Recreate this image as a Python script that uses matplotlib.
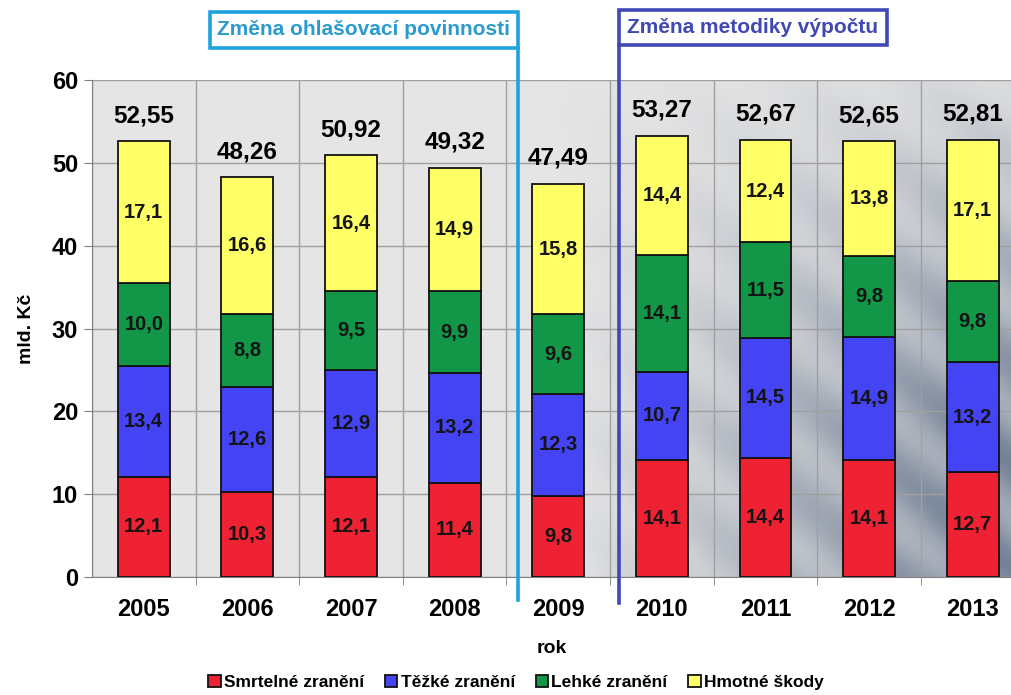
import numpy as np
import matplotlib
matplotlib.use("Agg")
import matplotlib.pyplot as plt
from matplotlib.patches import Rectangle

plt.rcParams['font.family'] = ['Liberation Sans', 'DejaVu Sans']

# data
roky = ['2005', '2006', '2007', '2008', '2009', '2010', '2011', '2012', '2013']
smrtelne = [12.1, 10.3, 12.1, 11.4, 9.8, 14.1, 14.4, 14.1, 12.7]
tezke = [13.4, 12.6, 12.9, 13.2, 12.3, 10.7, 14.5, 14.9, 13.2]
lehke = [10.0, 8.8, 9.5, 9.9, 9.6, 14.1, 11.5, 9.8, 9.8]
hmotne = [17.1, 16.6, 16.4, 14.9, 15.8, 14.4, 12.4, 13.8, 17.1]
celkem = ['52,55', '48,26', '50,92', '49,32', '47,49', '53,27', '52,67', '52,65', '52,81']

serie = [('Smrtelné zranění', smrtelne, '#ee2233'),
         ('Těžké zranění', tezke, '#4444f4'),
         ('Lehké zranění', lehke, '#129647'),
         ('Hmotné škody', hmotne, '#ffff66')]

fig = plt.figure(figsize=(10.12, 6.95), dpi=100)
ax = fig.add_axes([0.0909, 0.1698, 0.9091, 0.715])

# pozadi s prechodem
u, v = np.meshgrid(np.linspace(0, 1, 300), np.linspace(1, 0, 200))
t = np.clip((u - 0.5) * 2.2, 0, 1) * np.clip(1.35 - v * 1.2, 0, 1)
t = t * (0.8 + 0.2 * np.sin(u * 45 + v * 30))
light = np.array([0.90, 0.90, 0.90])
dark = np.array([0.46, 0.51, 0.59])
img = light[None, None, :] * (1 - t[..., None]) + dark[None, None, :] * t[..., None]
ax.imshow(img, extent=[0, 1, 0, 1], transform=ax.transAxes, aspect='auto', zorder=0)

x = np.arange(len(roky))
bottom = np.zeros(len(roky))
for nazev, hodnoty, barva in serie:
    ax.bar(x, hodnoty, 0.5, bottom=bottom, color=barva, edgecolor='#111111',
           linewidth=1.3, label=nazev, zorder=3)
    for i, h in enumerate(hodnoty):
        ax.text(x[i], bottom[i] + h / 2, ('%.1f' % h).replace('.', ','),
                ha='center', va='center', fontsize=14.5, fontweight='bold',
                color='#141414', zorder=4)
    bottom = bottom + np.array(hodnoty)

for i, s in enumerate(celkem):
    ax.annotate(s, (x[i], bottom[i]), xytext=(0, 10), textcoords='offset points',
                ha='center', va='bottom', fontsize=17.5, fontweight='bold', zorder=4)

ax.set_xlim(-0.5, 8.38)
ax.set_ylim(0, 60)
ax.set_yticks(range(0, 61, 10))
ax.set_xticks(x)
ax.set_xticklabels(roky)
ax.set_xticks(x[:-1] + 0.5, minor=True)
ax.grid(axis='y', color='#a0a0a0', linewidth=1, zorder=1)
for b in np.append(x - 0.5, x[-1] + 0.5):
    ax.axvline(b, color='#a0a0a0', linewidth=1, zorder=1)
ax.set_axisbelow(True)
ax.tick_params(axis='y', length=6, color='#808080', labelsize=17, pad=4)
ax.tick_params(axis='x', which='major', length=0, labelsize=17, pad=15)
ax.tick_params(axis='x', which='minor', length=6, color='#808080')
for lab in ax.get_xticklabels() + ax.get_yticklabels():
    lab.set_fontweight('bold')
for s in ['top', 'right']:
    ax.spines[s].set_visible(False)
ax.spines['left'].set_color('#808080')
ax.spines['bottom'].set_color('#808080')

ax.set_ylabel('mld. Kč', fontsize=14, fontweight='bold', labelpad=12)
ax.set_xlabel('rok', fontsize=14, fontweight='bold', labelpad=14)

# zmeny metodiky
i1 = roky.index('2009')
i2 = roky.index('2010')
c1 = '#1ea3dc'
c2 = '#3f48b4'
x1 = i1 - 0.39
x2 = i2 - 0.41
ax.plot([x1, x1], [-2.8, 63.9], color=c1, linewidth=2.6, clip_on=False, zorder=5)
ax.add_patch(Rectangle((0.64, 63.9), x1 - 0.64, 4.3, facecolor='white', edgecolor=c1,
                       linewidth=2.6, clip_on=False, zorder=5))
ax.text((0.64 + x1) / 2, 66.05, 'Změna ohlašovací povinnosti', ha='center', va='center',
        fontsize=15, fontweight='bold', color='#2a9bd0', zorder=6, clip_on=False)
ax.plot([x2, x2], [-3.1, 64.25], color=c2, linewidth=2.6, clip_on=False, zorder=5)
ax.add_patch(Rectangle((x2, 64.25), 7.17 - x2, 4.25, facecolor='white', edgecolor=c2,
                       linewidth=2.6, clip_on=False, zorder=5))
ax.text((x2 + 7.17) / 2, 66.4, 'Změna metodiky výpočtu', ha='center', va='center',
        fontsize=15, fontweight='bold', color=c2, zorder=6, clip_on=False)

leg = fig.legend(loc='center', bbox_to_anchor=(0.51, 0.018), ncol=4, frameon=False,
                 handlelength=0.7, handleheight=0.7, handletextpad=0.2,
                 columnspacing=1.2, prop={'size': 12.5, 'weight': 'bold'})

fig.savefig('out.png', dpi=100)
